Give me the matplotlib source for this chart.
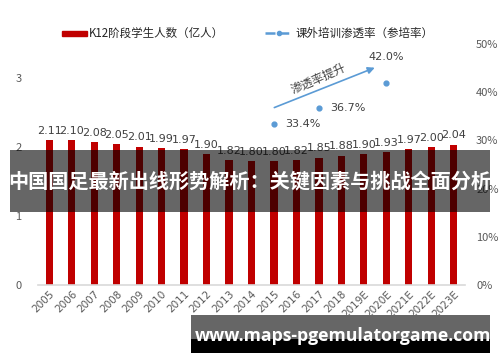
import matplotlib
matplotlib.use('Agg')
import matplotlib.pyplot as plt
from matplotlib.patches import Rectangle
from matplotlib.lines import Line2D
from matplotlib.ticker import FuncFormatter

plt.rcParams['font.family'] = ['Noto Sans CJK SC', 'DejaVu Sans']

# data
years = ['2005', '2006', '2007', '2008', '2009', '2010', '2011', '2012', '2013', '2014',
         '2015', '2016', '2017', '2018', '2019E', '2020E', '2021E', '2022E', '2023E']
students = [2.11, 2.10, 2.08, 2.05, 2.01, 1.99, 1.97, 1.90, 1.82, 1.80,
            1.80, 1.82, 1.85, 1.88, 1.90, 1.93, 1.97, 2.00, 2.04]
rate_years = ['2015', '2017', '2020E']
rate_values = [33.4, 36.7, 42.0]

title = '中国国足最新出线形势解析：关键因素与挑战全面分析'
site = 'www.maps-pgemulatorgame.com'

red = '#C00000'
blue = '#5B9BD5'
tick_c = '#595959'

fig = plt.figure(figsize=(5, 3.62), dpi=100)
ax = fig.add_axes([0.076, 0.2127, 0.854, 0.6657])
ax2 = ax.twinx()

x = list(range(len(years)))
ax.bar(x, students, width=0.32, color=red, zorder=2)
for xi, v in zip(x, students):
    ax.annotate('%.2f' % v, (xi, v), xytext=(0, 3), textcoords='offset points',
                ha='center', va='bottom', fontsize=8, color='#404040',
                family='DejaVu Sans')

ax.set_xlim(-0.5, len(years) - 0.5)
ax.set_ylim(0, 3.5)
ax.set_yticks([0, 1, 2, 3])
ax.set_xticks(x)
ax.set_xticklabels(years, rotation=45, ha='right', rotation_mode='anchor',
                   fontsize=7.5, color=tick_c, family='DejaVu Sans')
ax.tick_params(axis='y', length=0, labelsize=8, labelcolor=tick_c, pad=12)
ax.tick_params(axis='x', length=0, pad=3)
for s in ['top', 'right', 'left']:
    ax.spines[s].set_visible(False)
ax.spines['bottom'].set_color('#D9D9D9')
ax.spines['bottom'].set_linewidth(1.2)

rx = [years.index(y) for y in rate_years]
ax2.scatter(rx, rate_values, s=12, color=blue, zorder=3)
ax2.set_ylim(0, 50)
ax2.set_yticks([0, 10, 20, 30, 40, 50])
ax2.yaxis.set_major_formatter(FuncFormatter(lambda v, p: '%d%%' % v))
ax2.tick_params(axis='y', length=0, labelsize=8, labelcolor=tick_c, pad=8)
for s in ['top', 'right', 'left', 'bottom']:
    ax2.spines[s].set_visible(False)
for xi, v in zip(rx[:2], rate_values[:2]):
    ax2.annotate('%.1f%%' % v, (xi, v), xytext=(8, 0), textcoords='offset points',
                 ha='left', va='center', fontsize=8, color='#404040', family='DejaVu Sans')
ax2.annotate('%.1f%%' % rate_values[2], (rx[2], rate_values[2]), xytext=(0, 15),
             textcoords='offset points', ha='center', va='bottom', fontsize=8,
             color='#404040', family='DejaVu Sans')

# trend arrow
ax2.annotate('', xy=(14.6, 45.3), xytext=(9.9, 36.6),
             arrowprops=dict(arrowstyle='-|>', color=blue, lw=1.2, mutation_scale=10))
ax2.text(12.0, 42.8, '渗透率提升', rotation=24, ha='center', va='center',
         fontsize=8.5, color='#404040')

# legend drawn by hand
fig.add_artist(Rectangle((62 / 500, 1 - 36 / 362), 25 / 500, 5 / 362,
                         transform=fig.transFigure, color=red))
fig.text(89 / 500, 1 - 33.5 / 362, 'K12阶段学生人数（亿人）', fontsize=8.3,
         va='center', ha='left', color='#262626')
fig.add_artist(Line2D([265 / 500, 292 / 500], [1 - 33 / 362] * 2,
                      transform=fig.transFigure, color=blue, lw=1.8, dashes=(4, 1.5)))
fig.add_artist(Line2D([278.5 / 500], [1 - 33 / 362], transform=fig.transFigure,
                      marker='o', ms=3, color=blue))
fig.text(295 / 500, 1 - 33.5 / 362, '课外培训渗透率（参培率）', fontsize=8.3,
         va='center', ha='left', color='#262626')

# title overlay band
fig.add_artist(Rectangle((10 / 500, 1 - 212 / 362), 480 / 500, 62 / 362,
                         transform=fig.transFigure, color='black', alpha=0.6, lw=0))
fig.text(250 / 500, 1 - 182 / 362, title, fontsize=14.5, fontweight='bold',
         color='white', ha='center', va='center')

# site overlay
fig.add_artist(Rectangle((191 / 500, 1 - 339 / 362), 299 / 500, 24 / 362,
                         transform=fig.transFigure, color='#666666', lw=0))
fig.add_artist(Rectangle((191 / 500, 1 - 353 / 362), 299 / 500, 14 / 362,
                         transform=fig.transFigure, color='black', lw=0))
fig.text(343 / 500, 1 - 336 / 362, site, fontsize=12.7, fontweight='bold',
         color='white', ha='center', va='center', family='Open Sans')

fig.savefig('out.png', dpi=100)
